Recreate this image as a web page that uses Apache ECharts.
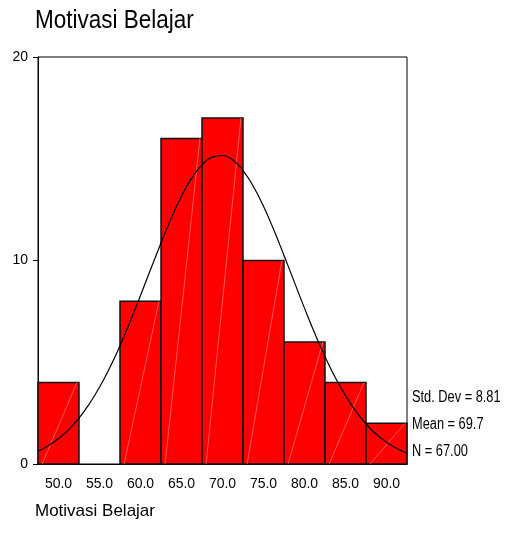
<!DOCTYPE html>
<html><head><meta charset="utf-8">
<script src="https://cdn.jsdelivr.net/npm/echarts@6/dist/echarts.min.js"></script>
<style>html,body{margin:0;padding:0;background:#fff}#c{width:506px;height:544px}</style>
</head><body><div id="c"></div>
<script>
// Histogram bins (midpoints) and counts
const categories = ['50.0','55.0','60.0','65.0','70.0','75.0','80.0','85.0','90.0'];
const counts = [4, 0, 8, 16, 17, 10, 6, 4, 2];
// Normal curve (x, frequency)
const curveX = [47.5,48.75,50,51.25,52.5,53.75,55,56.25,57.5,58.75,60,61.25,62.5,63.75,65,66.25,67.5,68.75,70,71.25,72.5,73.75,75,76.25,77.5,78.75,80,81.25,82.5,83.75,85,86.25,87.5,88.75,90,91.25,92.5];
const curveY = [0.63,0.90,1.25,1.69,2.26,2.95,3.77,4.73,5.81,7.01,8.28,9.58,10.86,12.08,13.16,14.05,14.70,15.08,15.16,14.94,14.42,13.65,12.66,11.51,10.25,8.95,7.66,6.42,5.28,4.25,3.36,2.60,1.97,1.46,1.07,0.76,0.53];
const yTicks = [0, 10, 20];
const stats = ['Std. Dev = 8.81', 'Mean = 69.7', 'N = 67.00'];
const titleText = 'Motivasi Belajar';
const xAxisTitle = 'Motivasi Belajar';

const chart = echarts.init(document.getElementById('c'), null, {renderer:'canvas'});
const font = 'Liberation Sans, Arial, sans-serif';
chart.setOption({
  animation: false,
  grid: {left: 38, right: 99, top: 57, bottom: 80, show: true, borderColor: '#000', borderWidth: 1, backgroundColor: 'transparent'},
  xAxis: [{
    type: 'category', data: categories, boundaryGap: true,
    axisLine: {lineStyle: {color: '#000', width: 1}},
    axisTick: {alignWithLabel: true, length: 5, lineStyle: {color: '#000'}},
    axisLabel: {fontFamily: font, fontSize: 14, color: '#000', margin: 13},
    splitLine: {show: false}
  }, {
    type: 'value', min: 47.5, max: 92.5, show: false
  }],
  yAxis: {
    type: 'value', min: yTicks[0], max: yTicks[2], interval: 10,
    axisLine: {show: true, lineStyle: {color: '#000', width: 1}},
    axisTick: {show: true, length: 5, lineStyle: {color: '#000'}},
    axisLabel: {fontFamily: font, fontSize: 14, color: '#000', margin: 10},
    splitLine: {show: false}
  },
  series: [{
    type: 'custom',
    xAxisIndex: 0,
    data: counts.map((v, i) => [i, v]),
    renderItem: function (params, api) {
      const v = api.value(1);
      if (!v) return null;
      const top = api.coord([api.value(0), v]);
      const bot = api.coord([api.value(0), 0]);
      const w = api.size([1, 0])[0];
      const x0 = top[0] - w / 2;
      const h = bot[1] - top[1];
      return {type: 'group', children: [
        {type: 'rect', shape: {x: x0, y: top[1], width: w, height: h},
          style: {fill: '#ff0000', stroke: '#111', lineWidth: 1.5}},
        {type: 'line', shape: {x1: x0 + w * 0.1, y1: bot[1], x2: x0 + w * 0.95, y2: top[1]},
          style: {stroke: 'rgba(255,160,160,0.55)', lineWidth: 1}}
      ]};
    },
    z: 2
  }, {
    type: 'line', xAxisIndex: 1, smooth: true, showSymbol: false, clip: true,
    data: curveX.map((x, i) => [x, curveY[i]]),
    lineStyle: {color: '#000', width: 1.2}, z: 3
  }],
  graphic: stats.map((t, i) => ({
    type: 'text', x: 412, y: [398, 425, 452][i], scaleX: 0.8,
    style: {text: t, fontFamily: font, fontSize: 16, fill: '#000', verticalAlign: 'middle'}
  })).concat([{
    type: 'text', x: 35, y: 21, scaleX: 0.9,
    style: {text: titleText, fontFamily: font, fontSize: 25, fill: '#000', verticalAlign: 'middle'}
  }, {
    type: 'text', x: 35, y: 511,
    style: {text: xAxisTitle, fontFamily: font, fontSize: 17, fill: '#000', verticalAlign: 'middle'}
  }])
});
</script></body></html>
